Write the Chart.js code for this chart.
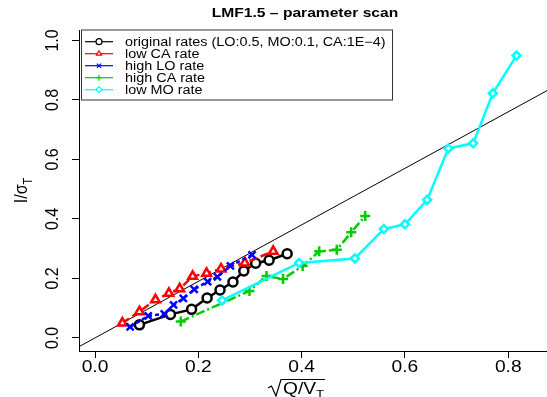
<!DOCTYPE html>
<html>
<head>
<meta charset="utf-8">
<script src="https://cdn.jsdelivr.net/npm/chart.js@4/dist/chart.umd.min.js"></script>
<style>
html, body { margin: 0; padding: 0; background: #fff; }
#wrap { width: 547px; height: 397px; }
</style>
</head>
<body>
<div id="wrap"><canvas id="c" width="547" height="397"></canvas></div>
<script>
// chart texts
const titleText = 'LMF1.5 \u2013 parameter scan';
const seriesNames = ['original rates (LO:0.5, MO:0.1, CA:1E\u22124)', 'low CA rate', 'high LO rate', 'high CA rate', 'low MO rate'];
const xTicks = [0, 0.2, 0.4, 0.6, 0.8];
const yTicks = [0, 0.2, 0.4, 0.6, 0.8, 1.0];

// values
const origX = [0.086, 0.146, 0.187, 0.217, 0.242, 0.267, 0.288, 0.311, 0.337, 0.372];
const origY = [0.044, 0.079, 0.096, 0.134, 0.161, 0.188, 0.225, 0.251, 0.261, 0.283];
const lowCaX = [0.053, 0.086, 0.117, 0.143, 0.164, 0.189, 0.216, 0.244, 0.290, 0.345];
const lowCaY = [0.050, 0.088, 0.128, 0.150, 0.165, 0.207, 0.217, 0.232, 0.252, 0.291];
const highLoX = [0.068, 0.103, 0.134, 0.152, 0.171, 0.192, 0.218, 0.237, 0.262, 0.304];
const highLoY = [0.037, 0.074, 0.081, 0.111, 0.133, 0.163, 0.189, 0.205, 0.242, 0.279];
const highCaX = [0.166, 0.299, 0.332, 0.364, 0.402, 0.434, 0.468, 0.496, 0.523];
const highCaY = [0.055, 0.158, 0.208, 0.198, 0.242, 0.291, 0.296, 0.355, 0.410];
const lowMoX = [0.246, 0.395, 0.503, 0.559, 0.600, 0.643, 0.684, 0.732, 0.770, 0.816];
const lowMoY = [0.126, 0.252, 0.267, 0.366, 0.382, 0.464, 0.637, 0.654, 0.822, 0.949];
const refX = [-0.05, 0.95];
const refY = [-0.0475, 0.9025];

const xMin = -0.031, xMax = 0.875;
const yMin = -0.044, yMax = 1.035;

const FONT = '"Liberation Sans", Arial, Helvetica, sans-serif';
const SX = 1.2; // text in the picture is stretched sideways

const pts = (xs, ys) => xs.map((x, i) => ({ x: x, y: ys[i] }));

const series = (label, xs, ys, color, style, radius, dash, order) => ({
    label: label,
    data: pts(xs, ys),
    borderColor: color,
    backgroundColor: '#ffffff',
    borderWidth: 2.5,
    borderDash: dash,
    pointStyle: style,
    pointRadius: radius,
    pointBorderColor: color,
    pointBackgroundColor: '#ffffff',
    pointBorderWidth: 2.5,
    tension: 0,
    order: order
});

const datasets = [
    series(seriesNames[0], origX, origY, '#000000', 'circle', 4.5, [], 4),
    series(seriesNames[1], lowCaX, lowCaY, '#ff0000', 'triangle', 5, [8, 4], 3),
    series(seriesNames[2], highLoX, highLoY, '#0000ff', 'crossRot', 5, [4, 3], 2),
    series(seriesNames[3], highCaX, highCaY, '#00cd00', 'cross', 5, [9, 3, 2, 3], 1),
    series(seriesNames[4], lowMoX, lowMoY, '#00ffff', 'rectRot', 4, [], 0),
    {
        label: 'ref',
        data: pts(refX, refY),
        borderColor: '#000000',
        borderWidth: 1,
        pointRadius: 0,
        order: 9
    }
];

function text(ctx, str, x, y, font, align, rotated) {
    ctx.save();
    ctx.translate(x, y);
    ctx.scale(SX, 1);
    if (rotated) ctx.rotate(-Math.PI / 2);
    ctx.font = font;
    ctx.textAlign = align;
    ctx.fillText(str, 0, 0);
    ctx.restore();
}

function width(ctx, str, font) {
    ctx.font = font;
    return ctx.measureText(str).width * SX;
}

// everything R draws outside the data: title, tick labels, axis titles, legend box
const decorations = {
    id: 'decorations',
    afterDraw(chart) {
        const ctx = chart.ctx;
        const xs = chart.scales.x;
        const ys = chart.scales.y;
        const area = chart.chartArea;
        ctx.save();
        ctx.fillStyle = '#000';
        ctx.textBaseline = 'middle';

        text(ctx, titleText, 305, 13, 'bold 13px ' + FONT, 'center', false);

        xTicks.forEach(v => text(ctx, v.toFixed(1), xs.getPixelForValue(v), 368, '16px ' + FONT, 'center', false));
        yTicks.forEach(v => text(ctx, v.toFixed(1), 53, ys.getPixelForValue(v), '16px ' + FONT, 'center', true));

        // y title  I/sigma_T
        ctx.textBaseline = 'alphabetic';
        const big = '16px ' + FONT, small = '11px ' + FONT;
        const main = 'I/\u03c3';
        const mw = width(ctx, main, big) / SX;
        const tw = width(ctx, 'T', small) / SX;
        const cy = (area.top + area.bottom) / 2;
        ctx.save();
        ctx.translate(27, cy);
        ctx.scale(SX, 1);
        ctx.rotate(-Math.PI / 2);
        ctx.textAlign = 'left';
        ctx.font = big;
        ctx.fillText(main, -(mw + tw) / 2, 0);
        ctx.font = small;
        ctx.fillText('T', -(mw + tw) / 2 + mw, 4);
        ctx.restore();

        // x title  sqrt(Q/V_T)
        const qx = 283;
        const qw = width(ctx, 'Q/V', big);
        text(ctx, 'Q/V', qx, 394, big, 'left', false);
        text(ctx, 'T', qx + qw, 398, small, 'left', false);
        ctx.strokeStyle = '#000';
        ctx.lineWidth = 1.2;
        ctx.beginPath();
        ctx.moveTo(268, 388);
        ctx.lineTo(271.5, 386);
        ctx.lineTo(276, 396);
        ctx.lineTo(281, 379.5);
        ctx.lineTo(qx + qw + 9, 379.5);
        ctx.stroke();

        // legend
        const lx = 81.5, ly = 30, lw = 311, lh = 70;
        ctx.fillStyle = '#fff';
        ctx.fillRect(lx, ly, lw, lh);
        ctx.strokeStyle = '#333';
        ctx.lineWidth = 1;
        ctx.strokeRect(lx, ly, lw, lh);
        ctx.textBaseline = 'middle';
        chart.data.datasets.slice(0, 5).forEach((ds, i) => {
            const rowY = 41.7 + i * 12;
            ctx.strokeStyle = ds.borderColor;
            ctx.lineWidth = 1.2;
            ctx.setLineDash([]);
            ctx.beginPath();
            ctx.moveTo(85, rowY);
            ctx.lineTo(113, rowY);
            ctx.stroke();
            ctx.fillStyle = '#fff';
            Chart.helpers.drawPoint(ctx, { pointStyle: ds.pointStyle, radius: 3, rotation: 0, borderWidth: 1.2 }, 99, rowY);
            ctx.fillStyle = '#000';
            text(ctx, ds.label, 125, rowY + 0.5, '12px ' + FONT, 'left', false);
        });
        ctx.restore();
    }
};

new Chart(document.getElementById('c'), {
    type: 'line',
    data: { datasets: datasets },
    options: {
        responsive: false,
        animation: false,
        devicePixelRatio: 1,
        layout: { autoPadding: false, padding: { top: 30, right: 0, left: 0, bottom: 0 } },
        plugins: { legend: { display: false }, tooltip: { enabled: false }, title: { display: false } },
        scales: {
            x: {
                type: 'linear',
                min: xMin,
                max: xMax,
                afterBuildTicks: s => { s.ticks = xTicks.map(v => ({ value: v })); },
                afterFit: s => { s.height = 46; },
                border: { display: true, color: '#000', width: 1 },
                grid: { drawOnChartArea: false, drawTicks: true, tickLength: 7, color: '#000', lineWidth: 1 },
                ticks: { display: false }
            },
            y: {
                type: 'linear',
                min: yMin,
                max: yMax,
                afterBuildTicks: s => { s.ticks = yTicks.map(v => ({ value: v })); },
                afterFit: s => { s.width = 79; },
                border: { display: true, color: '#000', width: 1 },
                grid: { drawOnChartArea: false, drawTicks: true, tickLength: 7, color: '#000', lineWidth: 1 },
                ticks: { display: false }
            }
        }
    },
    plugins: [decorations]
});
</script>
</body>
</html>
